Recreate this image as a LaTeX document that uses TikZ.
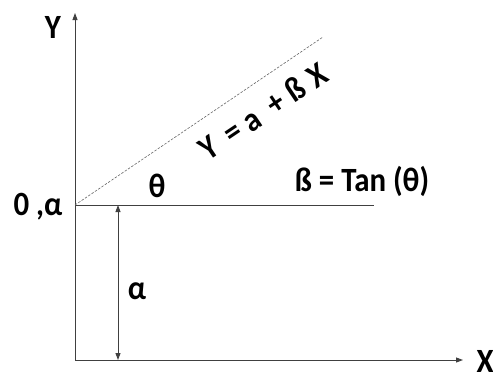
\documentclass[tikz,border=0pt]{standalone}
\usepackage{fontspec}
\setmainfont{Carlito}
\usetikzlibrary{arrows.meta}
\newcommand{\tallbox}[1]{\scalebox{1}[1.1]{#1}}
\begin{document}
\begin{tikzpicture}[x=1bp,y=-1bp,
  axis/.style={draw=black!75,line width=0.9bp},
  tip/.style={-{Triangle[length=7bp,width=5bp]}},
  lbl/.style={font=\bfseries\fontsize{31}{34}\selectfont,inner sep=0pt},
  dotline/.style={draw=black!60,line width=0.6bp,dash pattern=on 2.5bp off 1.5bp}]
\useasboundingbox (0,0) rectangle (493,372);
\coordinate (O) at (75,360);
\coordinate (A) at (75,205);
\coordinate (ytop) at (75,13);
\coordinate (xend) at (463,360);
\coordinate (hend) at (374,205);
\coordinate (dend) at (323,37);
\coordinate (aa) at (118,205);
\coordinate (ab) at (118,360);
\draw[axis,tip] (O) -- (ytop);
\draw[axis,tip] (O) -- (xend);
\draw[axis] (A) -- (hend);
\draw[dotline] (A) -- (dend);
\draw[axis,{Triangle[length=7bp,width=5bp]}-{Triangle[length=7bp,width=5bp]}] (aa) -- (ab);
\node[lbl] (ylab) at (53,27) {\tallbox{Y}};
\node[lbl] (xlab) at (485,361) {\tallbox{X}};
\node[lbl] (olab) at (38,207) {\tallbox{0 ,α}};
\node[lbl] (th) at (157,186) {\tallbox{θ}};
\node[lbl] (beta) at (362,181) {\tallbox{ß = Tan (θ)}};
\node[lbl] (al) at (137,291) {\tallbox{α}};
\node[lbl,rotate=34] (eq) at (263,111) {\tallbox{Y\hspace{0.4em}=\hspace{0.25em}a\hspace{0.45em}+\hspace{0.25em}ß\hspace{0.3em}X}};
\end{tikzpicture}
\end{document}
